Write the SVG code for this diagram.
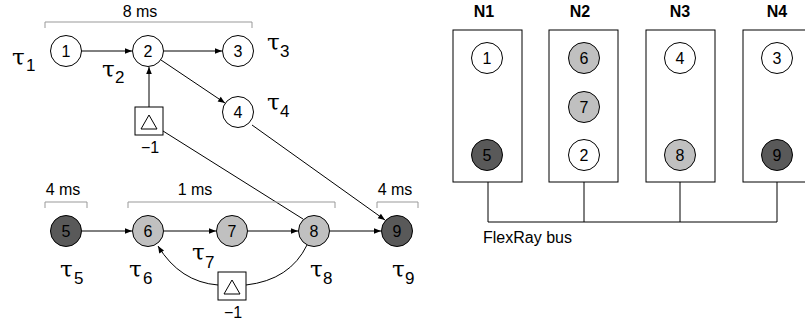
<svg xmlns="http://www.w3.org/2000/svg" width="805" height="324" viewBox="0 0 805 324">
<defs>
<marker id="ah" viewBox="0 0 10 10" refX="10" refY="5" markerWidth="10" markerHeight="7" markerUnits="userSpaceOnUse" orient="auto"><path d="M0,1 L10,5 L0,9 Z" fill="#000"/></marker>
</defs>
<style>
.n{stroke:#000;stroke-width:1;}
.w{fill:#fff}.l{fill:#c0c0c0}.d{fill:#595959}
.t{font-family:"Liberation Sans",Arial,sans-serif;font-size:16px;text-anchor:middle;fill:#000}
.nt{font-family:"Liberation Sans",Arial,sans-serif;font-size:16px;text-anchor:middle;dominant-baseline:central;fill:#000}
.tau{font-family:"DejaVu Serif",serif;font-size:23px;fill:#000}
.sub{font-family:"Liberation Sans",Arial,sans-serif;font-size:17px;fill:#000}
.br{fill:none;stroke:#999;stroke-width:1}
.c{fill:none;stroke:#000;stroke-width:1}
.bx{fill:#fff;stroke:#000;stroke-width:1}
.hd{font-family:"Liberation Sans",Arial,sans-serif;font-size:16px;font-weight:bold;text-anchor:middle;fill:#000}
</style>
<rect width="805" height="324" fill="#fff"/>
<g id="connectors">
<line class="c" x1="81" y1="51" x2="132" y2="51" marker-end="url(#ah)"/>
<line class="c" x1="164" y1="51" x2="222" y2="51" marker-end="url(#ah)"/>
<line class="c" x1="161" y1="60" x2="225" y2="103" marker-end="url(#ah)"/>
<line class="c" x1="149" y1="107" x2="149" y2="67" marker-end="url(#ah)"/>
<line class="c" x1="163" y1="131" x2="303" y2="219"/>
<line class="c" x1="252" y1="125" x2="385" y2="220" marker-end="url(#ah)"/>
<line class="c" x1="82" y1="231" x2="132" y2="231" marker-end="url(#ah)"/>
<line class="c" x1="164" y1="231" x2="216" y2="231" marker-end="url(#ah)"/>
<line class="c" x1="248" y1="231" x2="298" y2="231" marker-end="url(#ah)"/>
<line class="c" x1="330" y1="231" x2="381" y2="231" marker-end="url(#ah)"/>
<path class="c" d="M307,245 Q290,280 246,285"/>
<path class="c" d="M218,285 Q180,282 158,246" marker-end="url(#ah)"/>
<polyline class="c" points="488,182 488,222 777,222 777,182"/>
<line class="c" x1="584" y1="182" x2="584" y2="222"/>
<line class="c" x1="680" y1="182" x2="680" y2="222"/>
</g>
<g id="brackets">
<polyline class="br" points="45,28 45,22 252,22 252,28"/>
<text class="t" x="140" y="17">8 ms</text>
<polyline class="br" points="45,208 45,202 87,202 87,208"/>
<text class="t" x="63" y="195">4 ms</text>
<polyline class="br" points="128,208 128,202 335,202 335,208"/>
<text class="t" x="195" y="195">1 ms</text>
<polyline class="br" points="377,208 377,202 418,202 418,208"/>
<text class="t" x="395" y="195">4 ms</text>
</g>
<g id="n1"><circle class="n w" cx="66" cy="51" r="15.5"/><text class="nt" x="66" y="51">1</text></g>
<g id="n2"><circle class="n w" cx="148" cy="51" r="15.5"/><text class="nt" x="148" y="51">2</text></g>
<g id="n3"><circle class="n w" cx="238" cy="51" r="15.5"/><text class="nt" x="238" y="51">3</text></g>
<g id="n4"><circle class="n w" cx="238" cy="112" r="15.5"/><text class="nt" x="238" y="112">4</text></g>
<g id="d1"><rect class="bx" x="135" y="107" width="28" height="28"/><path d="M141,129 L149,115 L157,129 Z" fill="none" stroke="#000"/><text class="t" x="150" y="153">−1</text></g>
<g id="n5"><circle class="n d" cx="66" cy="231" r="15.5"/><text class="nt" x="66" y="231">5</text></g>
<g id="n6"><circle class="n l" cx="148" cy="231" r="15.5"/><text class="nt" x="148" y="231">6</text></g>
<g id="n7"><circle class="n l" cx="232" cy="231" r="15.5"/><text class="nt" x="232" y="231">7</text></g>
<g id="n8"><circle class="n l" cx="314" cy="231" r="15.5"/><text class="nt" x="314" y="231">8</text></g>
<g id="n9"><circle class="n d" cx="397" cy="231" r="15.5"/><text class="nt" x="397" y="231">9</text></g>
<g id="d2"><rect class="bx" x="218" y="272" width="28" height="28"/><path d="M224,294 L232,280 L240,294 Z" fill="none" stroke="#000"/><text class="t" x="233" y="318">−1</text></g>
<g id="taus">
<text class="tau" x="12" y="65">τ</text><text class="sub" x="26" y="71">1</text>
<text class="tau" x="102" y="77">τ</text><text class="sub" x="115" y="83">2</text>
<text class="tau" x="267" y="50">τ</text><text class="sub" x="280" y="57">3</text>
<text class="tau" x="267" y="110">τ</text><text class="sub" x="280" y="117">4</text>
<text class="tau" x="60" y="277">τ</text><text class="sub" x="74" y="284">5</text>
<text class="tau" x="129" y="277">τ</text><text class="sub" x="143" y="284">6</text>
<text class="tau" x="192" y="260">τ</text><text class="sub" x="205" y="268">7</text>
<text class="tau" x="310" y="277">τ</text><text class="sub" x="323" y="284">8</text>
<text class="tau" x="392" y="277">τ</text><text class="sub" x="405" y="284">9</text>
</g>
<g id="N1"><text class="hd" x="484" y="17">N1</text><rect class="bx" x="453" y="30" width="69" height="152"/>
<circle class="n w" cx="487" cy="58" r="15.5"/><text class="nt" x="487" y="58">1</text>
<circle class="n d" cx="487" cy="155" r="15.5"/><text class="nt" x="487" y="155">5</text></g>
<g id="N2"><text class="hd" x="580" y="17">N2</text><rect class="bx" x="549" y="30" width="69" height="152"/>
<circle class="n l" cx="584" cy="58" r="15.5"/><text class="nt" x="584" y="58">6</text>
<circle class="n l" cx="584" cy="107" r="15.5"/><text class="nt" x="584" y="107">7</text>
<circle class="n w" cx="584" cy="155" r="15.5"/><text class="nt" x="584" y="155">2</text></g>
<g id="N3"><text class="hd" x="680" y="17">N3</text><rect class="bx" x="646" y="30" width="69" height="152"/>
<circle class="n w" cx="680" cy="58" r="15.5"/><text class="nt" x="680" y="58">4</text>
<circle class="n l" cx="680" cy="155" r="15.5"/><text class="nt" x="680" y="155">8</text></g>
<g id="N4"><text class="hd" x="777" y="17">N4</text><rect class="bx" x="743" y="30" width="69" height="152"/>
<circle class="n w" cx="777" cy="58" r="15.5"/><text class="nt" x="777" y="58">3</text>
<circle class="n d" cx="777" cy="155" r="15.5"/><text class="nt" x="777" y="155">9</text></g>
<text id="bus" x="483" y="243" font-family="Liberation Sans, Arial, sans-serif" font-size="16" fill="#000">FlexRay bus</text>
</svg>
